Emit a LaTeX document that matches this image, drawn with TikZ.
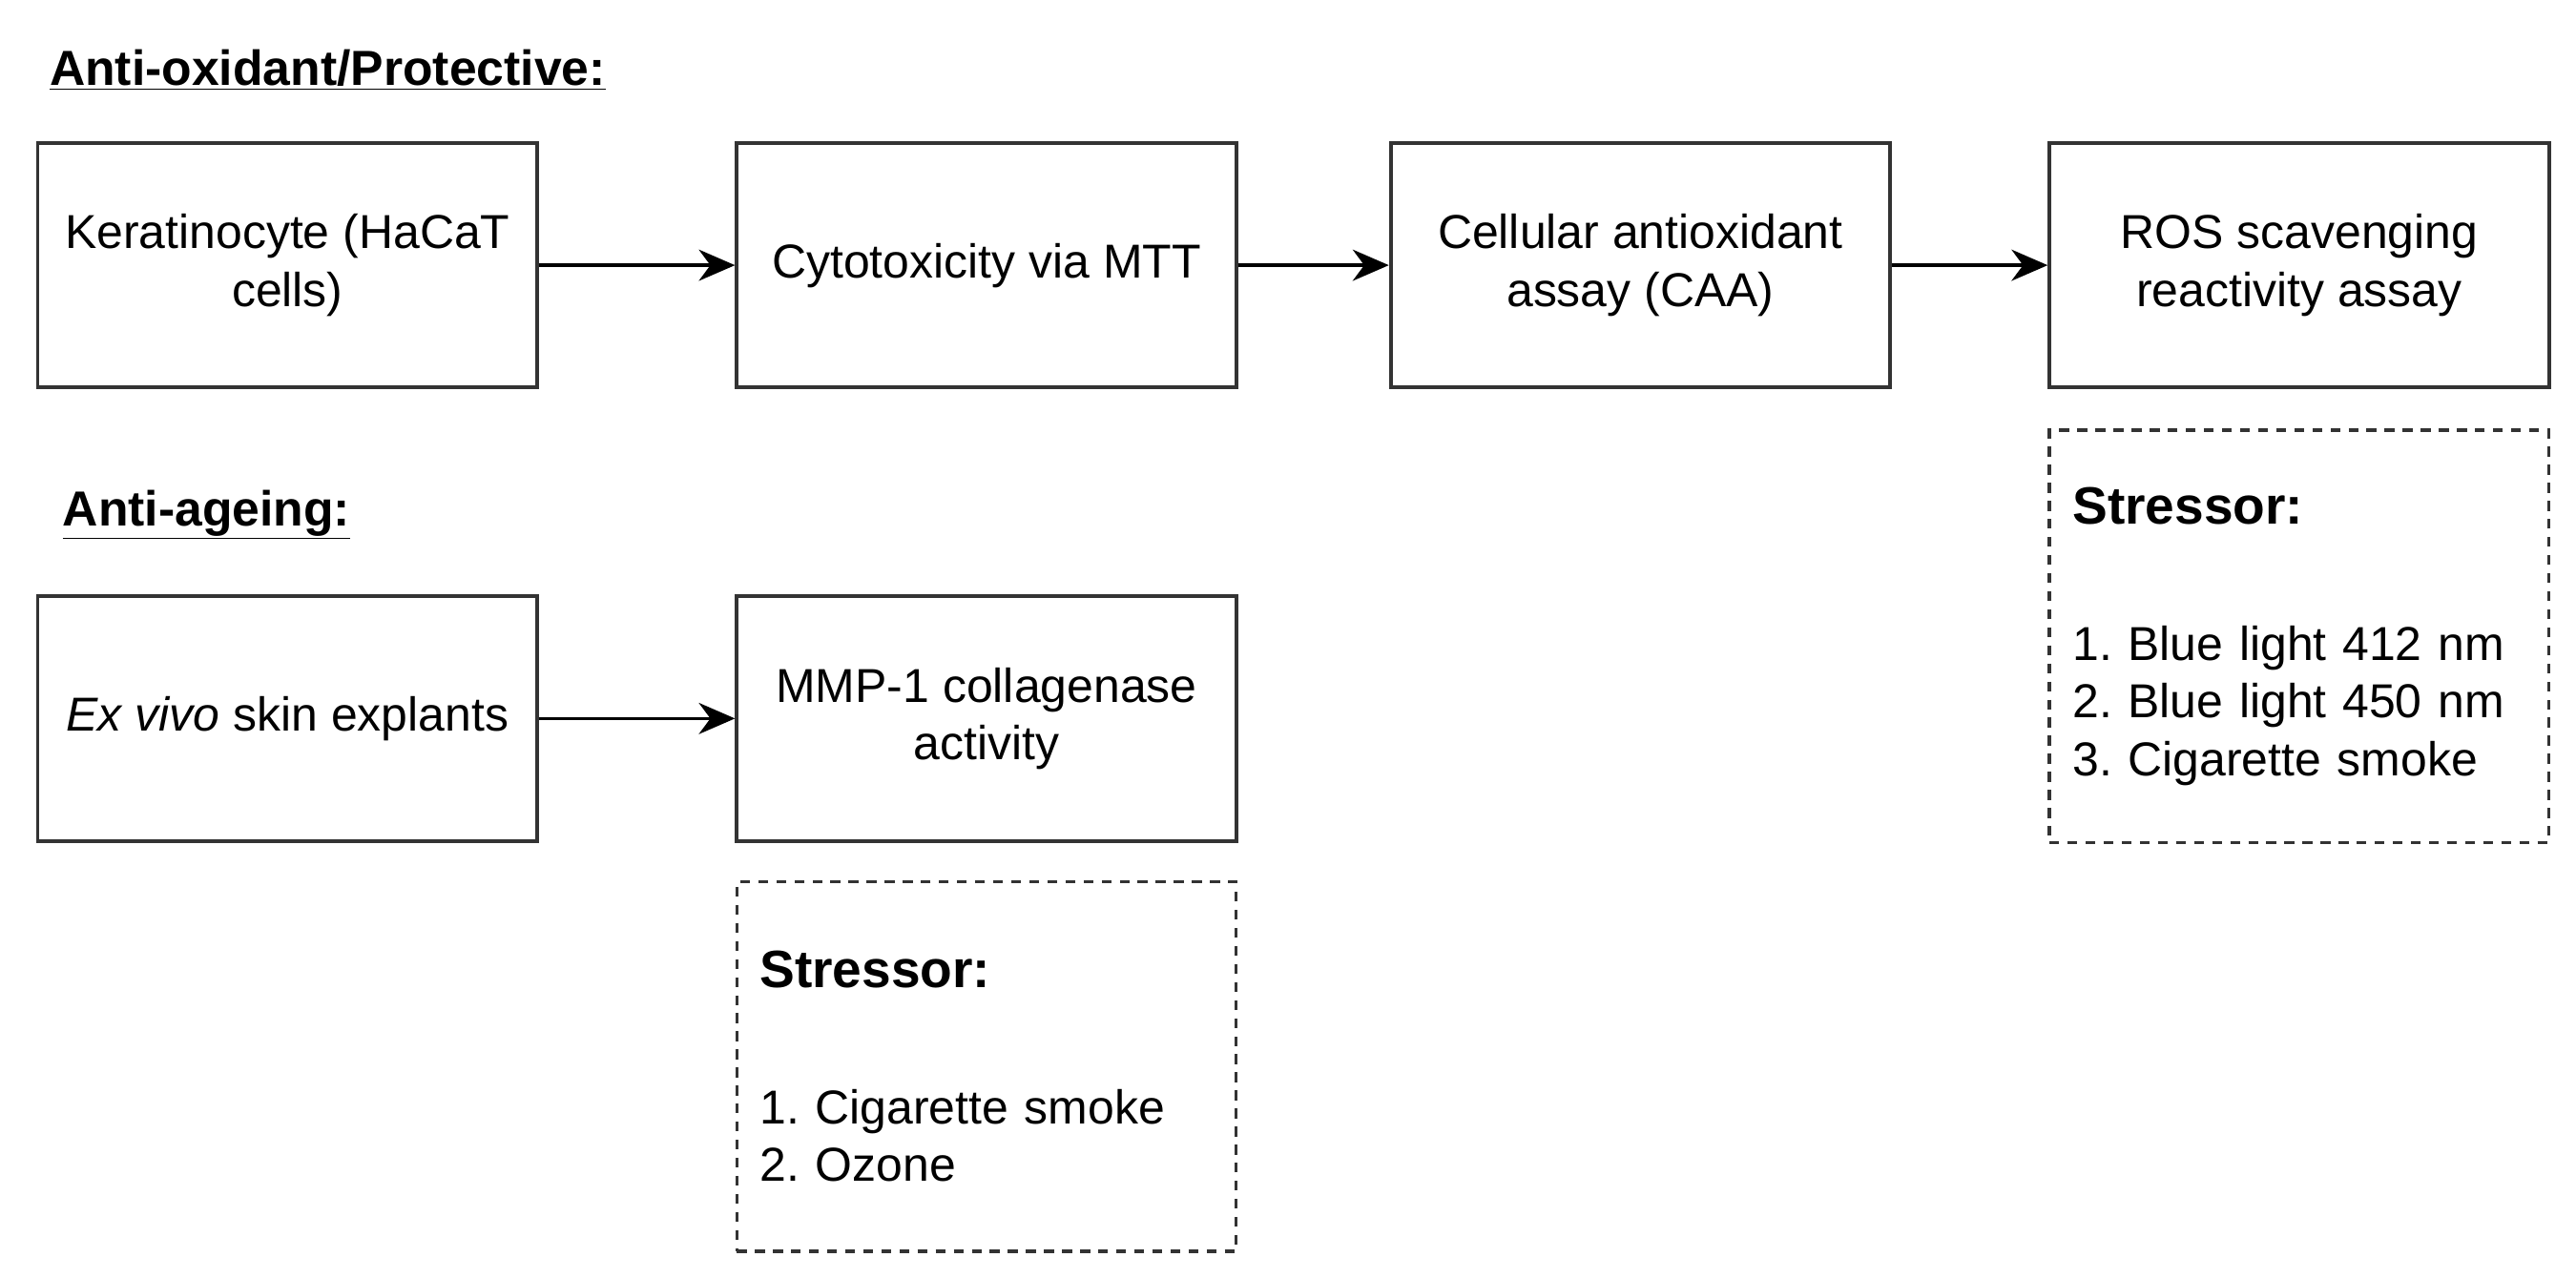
\documentclass[tikz,border=0pt]{standalone}
\usepackage{fontspec}
\setmainfont{Liberation Sans}
\usetikzlibrary{arrows.meta}
\begin{document}
\frenchspacing
\begin{tikzpicture}[x=1pt,y=-1pt,
  every node/.style={font=\fontsize{29}{35}\selectfont},
  box/.style={draw=black!80,line width=2.2pt,minimum width=304pt,minimum height=149pt,align=center,inner sep=0pt},
  sbox/.style={draw=black!80,line width=2pt,dash pattern=on 6pt off 5pt,minimum width=304pt,align=left,inner sep=0pt,text width=276pt},
  arr/.style={line width=2pt,-{Stealth[length=22pt,width=19pt,inset=7pt]}},
  title/.style={font=\fontsize{30}{36}\selectfont\bfseries,anchor=base west,inner sep=0pt}]
\useasboundingbox (0,0) rectangle (1568,778);
\node[title] (t1) at (30,52) {\underline{Anti-oxidant/Protective:}};
\node[title] (t2) at (38,320) {\underline{Anti-ageing:}};
\node[box] (b1) at (175,161.5) {Keratinocyte (HaCaT\\cells)};
\node[box] (b2) at (600.5,161.5) {Cytotoxicity via MTT};
\node[box] (b3) at (998.5,161.5) {Cellular antioxidant\\assay (CAA)};
\node[box] (b4) at (1399.5,161.5) {ROS scavenging\\reactivity assay};
\node[box] (b5) at (175,437.5) {\textit{Ex vivo} skin explants};
\node[box] (b6) at (600.5,437.5) {MMP-1 collagenase\\activity};
\node[sbox,minimum height=251pt] (s4) at (1399.5,387.5) {{\fontsize{32}{35}\selectfont\bfseries Stressor:}\\[48pt]1. Blue light 412 nm\\2. Blue light 450 nm\\3. Cigarette smoke};
\node[sbox,minimum height=225pt] (s6) at (600.5,649.5) {{\fontsize{32}{35}\selectfont\bfseries Stressor:}\\[48pt]1. Cigarette smoke\\2. Ozone};
\draw[arr] (b1) -- (b2);
\draw[arr] (b2) -- (b3);
\draw[arr] (b3) -- (b4);
\draw[arr] (b5) -- (b6);
\end{tikzpicture}
\end{document}
